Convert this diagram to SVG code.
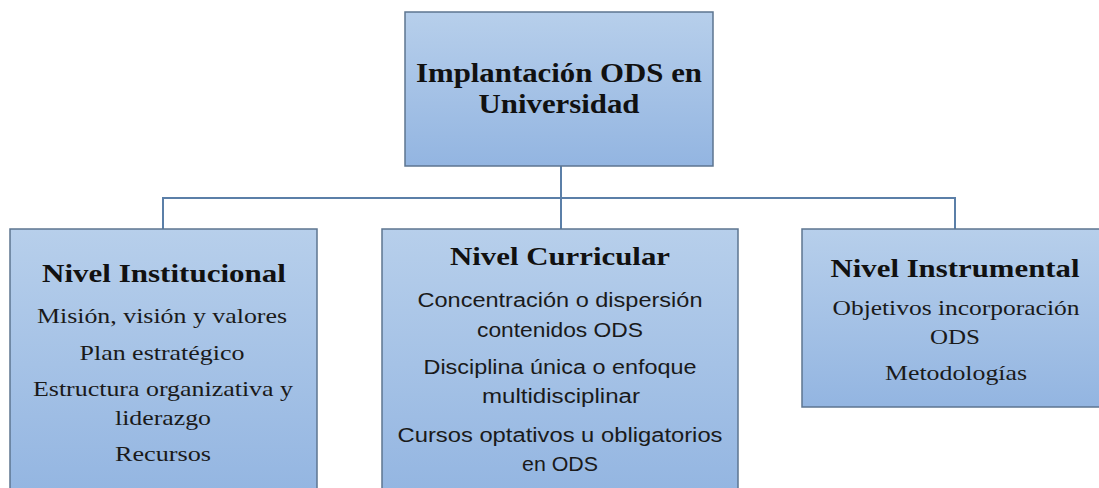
<svg xmlns="http://www.w3.org/2000/svg" width="1099" height="488" viewBox="0 0 1099 488">
<defs>
<linearGradient id="g" x1="0" y1="0" x2="0" y2="1">
<stop offset="0" stop-color="#b7cfeb"/>
<stop offset="1" stop-color="#93b5e1"/>
</linearGradient>
<style>
.box{fill:url(#g);stroke:#5d7590;stroke-width:1.5}
.conn{fill:none;stroke:#5b7fa8;stroke-width:2}
.t{font-family:"Liberation Serif",serif;font-weight:bold;fill:#111;text-anchor:middle}
.s{font-family:"Liberation Serif",serif;font-size:21px;fill:#1a1a1a;text-anchor:middle}
.c{font-family:"Liberation Sans",sans-serif;font-size:19.5px;fill:#1a1a1a;text-anchor:middle}
</style>
</defs>
<rect width="1099" height="488" fill="#fff"/>
<g id="connectors">
<path class="conn" d="M561 166 V198 M163 229 V198 H955 V229 M561 198 V229"/>
</g>
<g id="root">
<rect class="box" x="405" y="12" width="308" height="154"/>
<text class="t" x="559" y="82" font-size="27" textLength="286" lengthAdjust="spacingAndGlyphs">Implantación ODS en</text>
<text class="t" x="559" y="113" font-size="27" textLength="161" lengthAdjust="spacingAndGlyphs">Universidad</text>
</g>
<g id="institucional">
<rect class="box" x="10" y="229" width="307" height="270"/>
<text class="t" x="164" y="282" font-size="26" textLength="244" lengthAdjust="spacingAndGlyphs">Nivel Institucional</text>
<text class="s" x="162" y="323" textLength="250" lengthAdjust="spacingAndGlyphs">Misión, visión y valores</text>
<text class="s" x="162" y="360" textLength="165" lengthAdjust="spacingAndGlyphs">Plan estratégico</text>
<text class="s" x="163" y="396" textLength="260" lengthAdjust="spacingAndGlyphs">Estructura organizativa y</text>
<text class="s" x="163" y="425" textLength="96" lengthAdjust="spacingAndGlyphs">liderazgo</text>
<text class="s" x="163" y="461" textLength="96" lengthAdjust="spacingAndGlyphs">Recursos</text>
</g>
<g id="curricular">
<rect class="box" x="382" y="229" width="356" height="270"/>
<text class="t" x="560" y="265" font-size="26" textLength="220" lengthAdjust="spacingAndGlyphs">Nivel Curricular</text>
<text class="c" x="560" y="307" textLength="285" lengthAdjust="spacingAndGlyphs">Concentración o dispersión</text>
<text class="c" x="560" y="337" textLength="166" lengthAdjust="spacingAndGlyphs">contenidos ODS</text>
<text class="c" x="560" y="374" textLength="273" lengthAdjust="spacingAndGlyphs">Disciplina única o enfoque</text>
<text class="c" x="561" y="403" textLength="158" lengthAdjust="spacingAndGlyphs">multidisciplinar</text>
<text class="c" x="560" y="442" textLength="325" lengthAdjust="spacingAndGlyphs">Cursos optativos u obligatorios</text>
<text class="c" x="560" y="471" textLength="76" lengthAdjust="spacingAndGlyphs">en ODS</text>
</g>
<g id="instrumental">
<rect class="box" x="802" y="229" width="310" height="178"/>
<text class="t" x="955" y="277" font-size="26" textLength="249" lengthAdjust="spacingAndGlyphs">Nivel Instrumental</text>
<text class="s" x="956" y="315" textLength="247" lengthAdjust="spacingAndGlyphs">Objetivos incorporación</text>
<text class="s" x="955" y="344" textLength="50" lengthAdjust="spacingAndGlyphs">ODS</text>
<text class="s" x="956" y="380" textLength="142" lengthAdjust="spacingAndGlyphs">Metodologías</text>
</g>
</svg>
